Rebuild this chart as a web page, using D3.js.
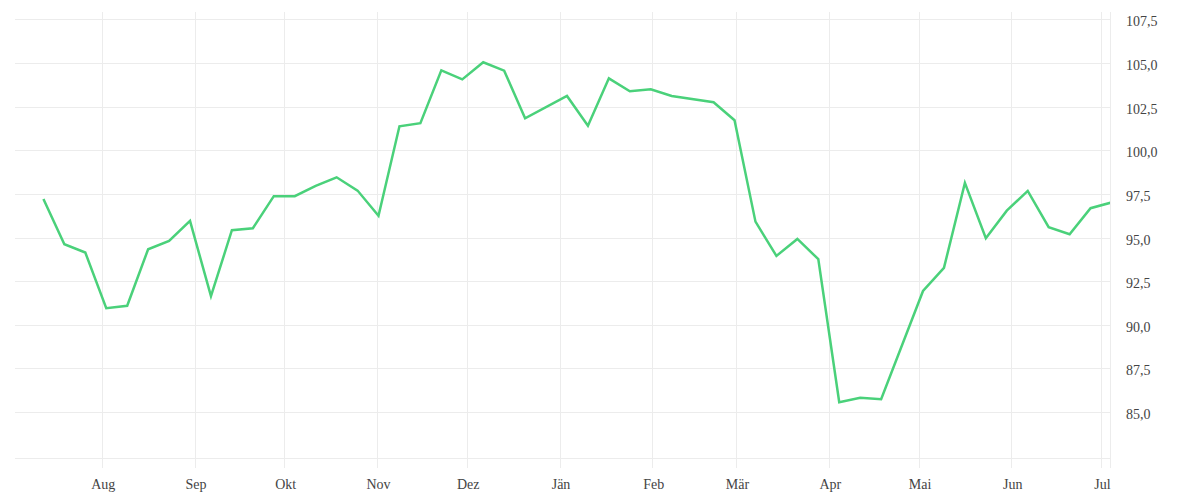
<!DOCTYPE html>
<html>
<head>
<meta charset="utf-8">
<script src="https://cdn.jsdelivr.net/npm/d3@7"></script>
<style>
  body { margin: 0; background: #fff; }
  svg text { font-family: "Liberation Serif", serif; fill: #444; }
</style>
</head>
<body>
<svg id="Chart"></svg>
<script>
// weekly closing values (some weeks missing in the source)
let dates = [
  "2018-07-12", "2018-07-19", "2018-07-26", "2018-08-02", "2018-08-09", "2018-08-16",
  "2018-08-23", "2018-08-30", "2018-09-06", "2018-09-13", "2018-09-20", "2018-09-27",
  "2018-10-04", "2018-10-11", "2018-10-18", "2018-10-25", "2018-11-01", "2018-11-08",
  "2018-11-15", "2018-11-22", "2018-11-29", "2018-12-06", "2018-12-13", "2018-12-20",
  "2019-01-03", "2019-01-10", "2019-01-17", "2019-01-24", "2019-01-31", "2019-02-07",
  "2019-02-21", "2019-02-28", "2019-03-07", "2019-03-14", "2019-03-21", "2019-03-28",
  "2019-04-04", "2019-04-11", "2019-04-18", "2019-05-02", "2019-05-09", "2019-05-16",
  "2019-05-23", "2019-05-30", "2019-06-06", "2019-06-13", "2019-06-20", "2019-06-27",
  "2019-07-04"
]
let values = [
  97.21, 94.62, 94.14, 90.95, 91.09, 94.33,
  94.81, 95.95, 91.64, 95.42, 95.53, 97.37,
  97.37, 97.96, 98.45, 97.69, 96.24, 101.37,
  101.55, 104.58, 104.06, 105.04, 104.56, 101.83,
  103.11, 101.41, 104.12, 103.38, 103.49, 103.11,
  102.75, 101.72, 95.91, 93.95, 94.92, 93.76,
  85.57, 85.82, 85.74, 91.94, 93.26, 98.13,
  94.96, 96.54, 97.67, 95.59, 95.19, 96.68,
  97.01
]
let yTicks = [85, 87.5, 90, 92.5, 95, 97.5, 100, 102.5, 105, 107.5]
let monthNames = ["Jän", "Feb", "Mär", "Apr", "Mai", "Jun", "Jul", "Aug", "Sep", "Okt", "Nov", "Dez"]
let xDomain = ["2018-07-03", "2019-07-04"]
let yDomain = [82.37, 107.92]

let parseDate = d3.timeParse("%Y-%m-%d")
// values are taken at midday
let data = dates.map((d, i) => ({ date: d3.timeHour.offset(parseDate(d), 12), value: values[i] }))

function getChartConfig(){
  let width = 1200
  let height = 500
  let margin = { top: 12, bottom: 42, left: 15, right: 90 }
  let bodyWidth = width - margin.left - margin.right
  let bodyHeight = height - margin.top - margin.bottom
  let container = d3.select("#Chart")
    .attr("width", width)
    .attr("height", height)
  return { width, height, margin, bodyWidth, bodyHeight, container }
}

function getScales(config){
  let { bodyWidth, bodyHeight } = config
  let xScale = d3.scaleTime()
    .domain(xDomain.map(parseDate))
    .range([0, bodyWidth])
  let yScale = d3.scaleLinear()
    .domain(yDomain)
    .range([bodyHeight, 0])
  return { xScale, yScale }
}

function drawGrid(scales, config){
  let { xScale, yScale } = scales
  let { container, margin, bodyWidth, bodyHeight } = config
  let body = container.append("g")
    .attr("transform", `translate(${margin.left},${margin.top})`)

  // horizontal lines, plus the bottom edge
  body.selectAll(".hgrid")
    .data(yTicks.concat([yDomain[0]]))
    .enter().append("line")
    .attr("x1", 0)
    .attr("x2", bodyWidth)
    .attr("y1", d => Math.round(yScale(d)) + 0.5)
    .attr("y2", d => Math.round(yScale(d)) + 0.5)
    .attr("stroke", "#ececec")

  // month lines run a bit below the plot, plus the right edge
  let months = xScale.ticks(d3.timeMonth.every(1))
  body.selectAll(".vgrid")
    .data(months.map(d => xScale(d)).concat([bodyWidth]))
    .enter().append("line")
    .attr("x1", d => Math.round(d) + 0.5)
    .attr("x2", d => Math.round(d) + 0.5)
    .attr("y1", 0)
    .attr("y2", bodyHeight + 10)
    .attr("stroke", "#ececec")
}

function drawAxes(scales, config){
  let { xScale, yScale } = scales
  let { container, margin, bodyWidth, bodyHeight } = config

  let axisX = d3.axisBottom(xScale)
    .ticks(d3.timeMonth.every(1))
    .tickFormat(d => monthNames[d.getMonth()])
    .tickSize(0)
    .tickPadding(21)
  let gx = container.append("g")
    .attr("transform", `translate(${margin.left + 1},${margin.top + bodyHeight})`)
    .call(axisX)
  gx.select(".domain").remove()
  gx.selectAll("text").style("font-size", "14px").attr("fill", "#444")

  let fmt = d3.format(".1f")
  let axisY = d3.axisRight(yScale)
    .tickValues(yTicks)
    .tickFormat(d => fmt(d).replace(".", ","))
    .tickSize(0)
    .tickPadding(16)
  let gy = container.append("g")
    .attr("transform", `translate(${margin.left + bodyWidth},${margin.top + 2})`)
    .call(axisY)
  gy.select(".domain").remove()
  gy.selectAll("text").style("font-size", "14px").attr("fill", "#444")
}

function drawLine(scales, config){
  let { xScale, yScale } = scales
  let { container, margin, bodyWidth, bodyHeight } = config

  container.append("clipPath").attr("id", "plotClip")
    .append("rect")
    .attr("width", bodyWidth)
    .attr("height", bodyHeight)

  let line = d3.line()
    .x(d => xScale(d.date))
    .y(d => yScale(d.value))

  container.append("g")
    .attr("transform", `translate(${margin.left},${margin.top})`)
    .attr("clip-path", "url(#plotClip)")
    .append("path")
    .datum(data)
    .attr("d", line)
    .attr("fill", "none")
    .attr("stroke", "#4ad17a")
    .attr("stroke-width", 2.5)
    .attr("stroke-linejoin", "miter")
}

let config = getChartConfig()
let scales = getScales(config)
drawGrid(scales, config)
drawLine(scales, config)
drawAxes(scales, config)
</script>
</body>
</html>
